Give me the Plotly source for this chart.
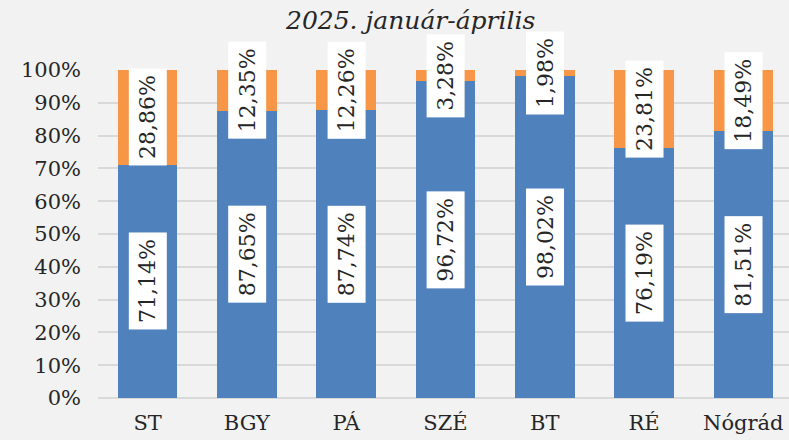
import plotly.graph_objects as go

categories = ["ST", "BGY", "PÁ", "SZÉ", "BT", "RÉ", "Nógrád"]
blue_vals = [71.14, 87.65, 87.74, 96.72, 98.02, 76.19, 81.51]
orange_vals = [28.86, 12.35, 12.26, 3.28, 1.98, 23.81, 18.49]
y_ticks = [0, 10, 20, 30, 40, 50, 60, 70, 80, 90, 100]
y_tick_labels = [f"{v}%" for v in y_ticks]
title_text = "2025. január-április"

BLUE = "#4F81BD"
ORANGE = "#F79646"
FONT = "DejaVu Serif"
TXT = "#262626"

fig = go.Figure()
fig.add_trace(go.Bar(x=categories, y=blue_vals, marker=dict(color=BLUE, line=dict(width=0)),
                     width=0.6, showlegend=False))
fig.add_trace(go.Bar(x=categories, y=orange_vals, marker=dict(color=ORANGE, line=dict(width=0)),
                     width=0.6, showlegend=False))

def fmt(v):
    return f"{v:.2f}".replace(".", ",") + "%"

annotations = []
for c, b, o in zip(categories, blue_vals, orange_vals):
    for val, mid in ((b, b / 2), (o, b + o / 2)):
        annotations.append(dict(
            x=c, y=mid, xref="x", yref="y", text=fmt(val), showarrow=False,
            textangle=-90, bgcolor="white", borderpad=6,
            font=dict(family=FONT, size=22, color=TXT),
        ))

annotations.append(dict(
    x=(410 - 98) / (789 - 98), y=1 + (70 - 21) / (398 - 70),
    xref="paper", yref="paper", text=title_text, showarrow=False,
    font=dict(family=FONT, size=25, color=TXT, style="italic"),
    xanchor="center", yanchor="middle",
))

fig.update_layout(
    barmode="stack",
    width=789, height=440,
    margin=dict(l=98, r=0, t=70, b=42),
    paper_bgcolor="#F2F2F2", plot_bgcolor="#F2F2F2",
    font=dict(family=FONT, size=21, color=TXT),
    annotations=annotations,
    hovermode=False,
    xaxis=dict(range=[-0.5, 6.46], showgrid=False, showline=False, ticks="",
               tickfont=dict(family=FONT, size=21, color=TXT), ticklabelstandoff=10),
    yaxis=dict(range=[0, 100], tickvals=y_ticks, ticktext=y_tick_labels,
               showgrid=True, gridcolor="#D9D9D9", gridwidth=2, zeroline=True,
               zerolinecolor="#D9D9D9", zerolinewidth=2, showline=False, ticks="",
               tickfont=dict(family=FONT, size=21, color=TXT), ticklabelstandoff=16),
)

fig.write_html("out.html", config={"displayModeBar": False},
               post_script="document.body.style.margin='0';")
